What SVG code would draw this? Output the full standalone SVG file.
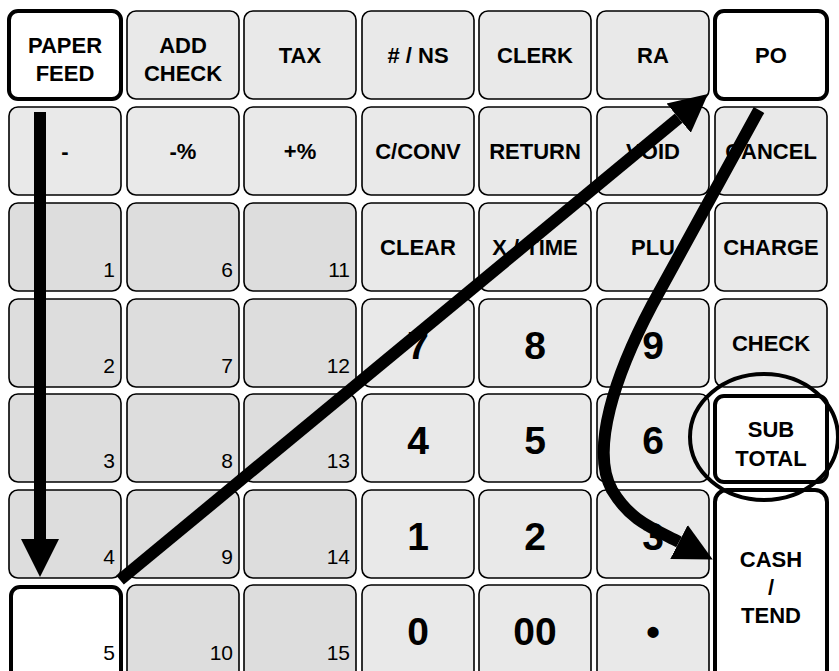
<svg xmlns="http://www.w3.org/2000/svg" width="839" height="671" viewBox="0 0 839 671">
<defs>
<style>
.k{fill:#e9e9e9;stroke:#000;stroke-width:1.6}
.b{fill:#dddddd;stroke:#000;stroke-width:1.6}
.w{fill:#fff;stroke:#000;stroke-width:4}
.t{font-family:"Liberation Sans",Arial,sans-serif;font-weight:bold;font-size:22px;text-anchor:middle;fill:#000}
.d{font-family:"Liberation Sans",Arial,sans-serif;font-weight:bold;font-size:39px;text-anchor:middle;fill:#000}
.n{font-family:"Liberation Sans",Arial,sans-serif;font-size:21px;text-anchor:end;fill:#000}
.arr{fill:none;stroke:#000;stroke-width:12}
</style>
<marker id="ah" markerUnits="userSpaceOnUse" markerWidth="40" markerHeight="40" viewBox="0 -20 40 40" refX="0" refY="0" orient="auto">
<path d="M0,-19 L38,0 L0,19 Z" fill="#000"/>
</marker>
</defs>
<!-- row 1 -->
<g id="paper-feed"><rect class="w" x="9" y="11" width="112" height="88" rx="9"/><text class="t" x="65" y="53">PAPER</text><text class="t" x="65" y="81">FEED</text></g>
<g id="add-check"><rect class="k" x="127" y="11" width="112" height="88" rx="9"/><text class="t" x="183" y="53">ADD</text><text class="t" x="183" y="81">CHECK</text></g>
<g id="tax"><rect class="k" x="244" y="11" width="112" height="88" rx="9"/><text class="t" x="300" y="63">TAX</text></g>
<g id="ns"><rect class="k" x="362" y="11" width="112" height="88" rx="9"/><text class="t" x="418" y="63"># / NS</text></g>
<g id="clerk"><rect class="k" x="479" y="11" width="112" height="88" rx="9"/><text class="t" x="535" y="63">CLERK</text></g>
<g id="ra"><rect class="k" x="597" y="11" width="112" height="88" rx="9"/><text class="t" x="653" y="63">RA</text></g>
<g id="po"><rect class="w" x="715" y="11" width="112" height="88" rx="9"/><text class="t" x="771" y="63">PO</text></g>
<!-- row 2 -->
<g id="minus"><rect class="k" x="9" y="107" width="112" height="88" rx="9"/><text class="t" x="65" y="159">-</text></g>
<g id="pct-minus"><rect class="k" x="127" y="107" width="112" height="88" rx="9"/><text class="t" x="183" y="159">-%</text></g>
<g id="pct-plus"><rect class="k" x="244" y="107" width="112" height="88" rx="9"/><text class="t" x="300" y="159">+%</text></g>
<g id="cconv"><rect class="k" x="362" y="107" width="112" height="88" rx="9"/><text class="t" x="418" y="159">C/CONV</text></g>
<g id="return"><rect class="k" x="479" y="107" width="112" height="88" rx="9"/><text class="t" x="535" y="159">RETURN</text></g>
<g id="void"><rect class="k" x="597" y="107" width="112" height="88" rx="9"/><text class="t" x="653" y="159">VOID</text></g>
<g id="cancel"><rect class="k" x="715" y="107" width="112" height="88" rx="9"/><text class="t" x="771" y="159">CANCEL</text></g>
<!-- row 3 -->
<g id="k1"><rect class="b" x="9" y="203" width="112" height="88" rx="9"/><text class="n" x="115" y="277">1</text></g>
<g id="k6"><rect class="b" x="127" y="203" width="112" height="88" rx="9"/><text class="n" x="233" y="277">6</text></g>
<g id="k11"><rect class="b" x="244" y="203" width="112" height="88" rx="9"/><text class="n" x="350" y="277">11</text></g>
<g id="clear"><rect class="k" x="362" y="203" width="112" height="88" rx="9"/><text class="t" x="418" y="255">CLEAR</text></g>
<g id="xtime"><rect class="k" x="479" y="203" width="112" height="88" rx="9"/><text class="t" x="535" y="255">X / TIME</text></g>
<g id="plu"><rect class="k" x="597" y="203" width="112" height="88" rx="9"/><text class="t" x="653" y="255">PLU</text></g>
<g id="charge"><rect class="k" x="715" y="203" width="112" height="88" rx="9"/><text class="t" x="771" y="255">CHARGE</text></g>
<!-- row 4 -->
<g id="k2"><rect class="b" x="9" y="299" width="112" height="88" rx="9"/><text class="n" x="115" y="373">2</text></g>
<g id="k7"><rect class="b" x="127" y="299" width="112" height="88" rx="9"/><text class="n" x="233" y="373">7</text></g>
<g id="k12"><rect class="b" x="244" y="299" width="112" height="88" rx="9"/><text class="n" x="350" y="373">12</text></g>
<g id="d7"><rect class="k" x="362" y="299" width="112" height="88" rx="9"/><text class="d" x="418" y="359">7</text></g>
<g id="d8"><rect class="k" x="479" y="299" width="112" height="88" rx="9"/><text class="d" x="535" y="359">8</text></g>
<g id="d9"><rect class="k" x="597" y="299" width="112" height="88" rx="9"/><text class="d" x="653" y="359">9</text></g>
<g id="check"><rect class="k" x="715" y="299" width="112" height="88" rx="9"/><text class="t" x="771" y="351">CHECK</text></g>
<!-- row 5 -->
<g id="k3"><rect class="b" x="9" y="394" width="112" height="88" rx="9"/><text class="n" x="115" y="468">3</text></g>
<g id="k8"><rect class="b" x="127" y="394" width="112" height="88" rx="9"/><text class="n" x="233" y="468">8</text></g>
<g id="k13"><rect class="b" x="244" y="394" width="112" height="88" rx="9"/><text class="n" x="350" y="468">13</text></g>
<g id="d4"><rect class="k" x="362" y="394" width="112" height="88" rx="9"/><text class="d" x="418" y="454">4</text></g>
<g id="d5"><rect class="k" x="479" y="394" width="112" height="88" rx="9"/><text class="d" x="535" y="454">5</text></g>
<g id="d6"><rect class="k" x="597" y="394" width="112" height="88" rx="9"/><text class="d" x="653" y="454">6</text></g>
<g id="subtotal"><rect class="w" x="715" y="396" width="112" height="86" rx="9"/><text class="t" x="771" y="437">SUB</text><text class="t" x="771" y="466">TOTAL</text></g>
<!-- row 6 -->
<g id="k4"><rect class="b" x="9" y="490" width="112" height="88" rx="9"/><text class="n" x="115" y="564">4</text></g>
<g id="k9"><rect class="b" x="127" y="490" width="112" height="88" rx="9"/><text class="n" x="233" y="564">9</text></g>
<g id="k14"><rect class="b" x="244" y="490" width="112" height="88" rx="9"/><text class="n" x="350" y="564">14</text></g>
<g id="d1"><rect class="k" x="362" y="490" width="112" height="88" rx="9"/><text class="d" x="418" y="550">1</text></g>
<g id="d2"><rect class="k" x="479" y="490" width="112" height="88" rx="9"/><text class="d" x="535" y="550">2</text></g>
<g id="d3"><rect class="k" x="597" y="490" width="112" height="88" rx="9"/><text class="d" x="653" y="550">3</text></g>
<g id="cash-tend"><rect class="w" x="715" y="490" width="112" height="196" rx="12"/><text class="t" x="771" y="567">CASH</text><text class="t" x="771" y="595">/</text><text class="t" x="771" y="623">TEND</text></g>
<!-- row 7 -->
<g id="k5"><rect class="w" x="11" y="587" width="110" height="96" rx="9"/><text class="n" x="115" y="660">5</text></g>
<g id="k10"><rect class="b" x="127" y="585" width="112" height="96" rx="9"/><text class="n" x="233" y="660">10</text></g>
<g id="k15"><rect class="b" x="244" y="585" width="112" height="96" rx="9"/><text class="n" x="350" y="660">15</text></g>
<g id="d0"><rect class="k" x="362" y="585" width="112" height="96" rx="9"/><text class="d" x="418" y="645">0</text></g>
<g id="d00"><rect class="k" x="479" y="585" width="112" height="96" rx="9"/><text class="d" x="535" y="645">00</text></g>
<g id="dot"><rect class="k" x="597" y="585" width="112" height="96" rx="9"/><text class="d" x="653" y="645">•</text></g>
<!-- connectors -->
<g id="connectors">
<path class="arr" d="M40,112 L40,539" marker-end="url(#ah)"/>
<path class="arr" d="M120,580 L678.7,118.2" marker-end="url(#ah)"/>
<path class="arr" d="M759,110 L652,305 C615,375 590,450 612,490 C630,520 650,527 679,542" marker-end="url(#ah)"/>
<ellipse cx="764" cy="437" rx="74" ry="63" fill="none" stroke="#000" stroke-width="4"/>
</g>
</svg>
